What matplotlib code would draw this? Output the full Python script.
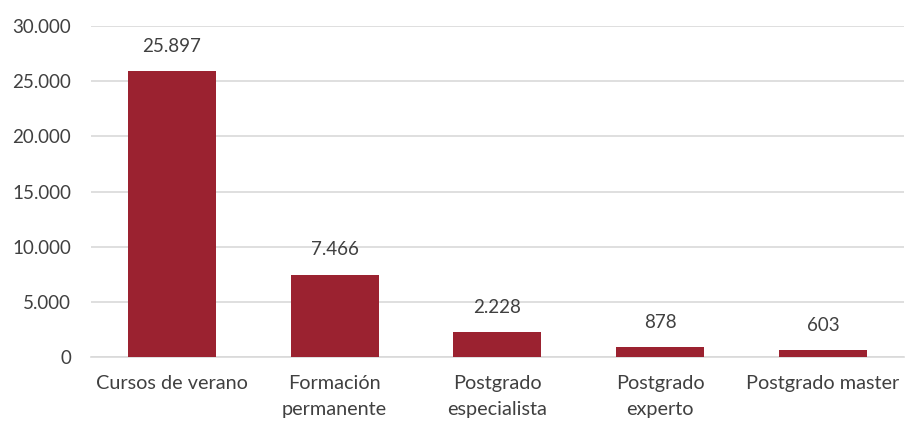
#!/usr/bin/env python
# -*- coding: utf-8 -*-

import matplotlib
matplotlib.use("Agg")
import matplotlib.pyplot as plt
from matplotlib.ticker import FuncFormatter

categories = ["Cursos de verano", "Formación\npermanente", "Postgrado\nespecialista",
              "Postgrado\nexperto", "Postgrado master"]
values = [25897, 7466, 2228, 878, 603]
yticks = [0, 5000, 10000, 15000, 20000, 25000, 30000]


def miles(v, pos=None):
    return f"{int(v):,}".replace(",", ".")


if __name__ == '__main__':
    plt.rcParams['font.family'] = ['Lato', 'DejaVu Sans']
    text_color = "#404040"

    fig = plt.figure(figsize=(9.06, 4.21), dpi=100)
    ax = fig.add_axes([0.1, 0.152, 0.898, 0.786])

    x = range(len(categories))
    bars = ax.bar(x, values, width=0.54, color="#9B2230", zorder=3)
    ax.bar_label(bars, labels=[miles(v) for v in values], padding=12,
                 fontsize=13.5, color=text_color)

    ax.set_xlim(-0.5, len(categories) - 0.5)
    ax.set_ylim(0, 30000)
    ax.set_yticks(yticks)
    ax.yaxis.set_major_formatter(FuncFormatter(miles))
    ax.set_xticks(list(x))
    ax.set_xticklabels(categories, linespacing=1.65, fontsize=14.3)

    ax.grid(axis="y", color="#d9d9d9", linewidth=1.2, zorder=0)
    for s in ["top", "right", "left"]:
        ax.spines[s].set_visible(False)
    ax.spines["bottom"].set_color("#d9d9d9")
    ax.spines["bottom"].set_linewidth(1.2)

    ax.tick_params(axis="y", labelsize=13.5)
    ax.tick_params(axis="both", length=0, colors=text_color)
    ax.tick_params(axis="x", pad=13)
    ax.tick_params(axis="y", pad=14)

    fig.savefig("out.png", dpi=100)
